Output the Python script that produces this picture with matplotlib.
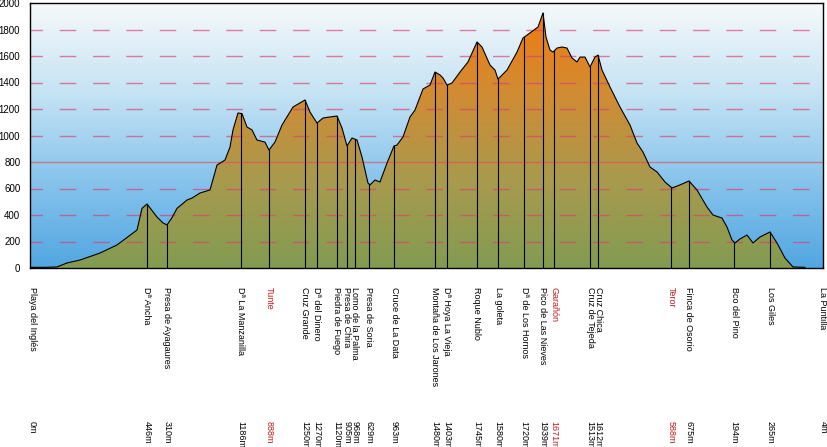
import matplotlib
matplotlib.use('Agg')
import matplotlib.pyplot as plt
import numpy as np
from matplotlib.colors import LinearSegmentedColormap
from matplotlib.transforms import blended_transform_factory

plt.rcParams['font.family'] = ['Liberation Sans', 'DejaVu Sans']

# profile: distance (km) and elevation (m)
dist = [0.0, 1.5, 2.7, 3.7, 5.0, 7.0, 8.7, 10.3, 10.7, 11.2, 11.7, 12.7, 13.3, 13.7,
        14.2, 14.7, 15.7, 16.2, 17.0, 18.0, 18.7, 19.5, 20.0, 20.3, 20.8, 21.2, 21.7,
        22.2, 22.7, 23.5, 23.9, 24.5, 25.2, 26.3, 27.5, 28.0, 28.7, 29.3, 30.0, 30.7,
        31.2, 31.7, 32.2, 32.7, 33.2, 33.8, 34.0, 34.5, 35.0, 35.7, 36.4, 36.7, 37.3,
        38.0, 38.5, 39.3, 40.0, 40.5, 41.0, 41.3, 41.7, 42.2, 43.0, 43.8, 44.7, 45.2,
        46.0, 46.5, 46.8, 47.7, 48.7, 49.3, 50.0, 50.8, 51.3, 51.6, 52.0, 52.3, 52.7,
        53.2, 53.7, 54.2, 54.7, 55.0, 55.5, 56.0, 56.5, 56.8, 57.2, 58.0, 59.0, 60.0,
        60.7, 61.3, 62.0, 62.7, 63.5, 64.2, 65.0, 65.9, 66.7, 67.7, 68.3, 69.2, 69.7,
        70.2, 70.5, 71.0, 71.7, 72.3, 73.0, 74.0, 74.7, 75.5, 76.3, 77.5]
elev = [5, 5, 8, 38, 60, 113, 174, 264, 287, 450, 483, 385, 340, 325,
        380, 450, 513, 528, 566, 589, 777, 815, 913, 1042, 1170, 1165, 1064,
        1042, 966, 950, 890, 951, 1079, 1215, 1268, 1177, 1094, 1132, 1140, 1147,
        1057, 921, 981, 966, 838, 641, 627, 664, 649, 792, 921, 928, 989,
        1140, 1192, 1351, 1381, 1479, 1457, 1434, 1381, 1396, 1479, 1555, 1706, 1668,
        1532, 1494, 1426, 1494, 1630, 1736, 1774, 1819, 1925, 1743, 1645, 1630, 1660,
        1668, 1660, 1585, 1555, 1592, 1592, 1517, 1592, 1607, 1494, 1366, 1215, 1079,
        943, 875, 762, 725, 649, 604, 627, 657, 589, 460, 400, 377, 309,
        211, 189, 219, 249, 189, 234, 272, 189, 75, 8, 5]

# waypoints
names = ['Playa del Inglés', 'Dª Ancha', 'Presa de Ayagaures', 'Dª La Manzanilla', 'Tunte',
         'Cruz Grande', 'Dª del Dinero', 'Piedra de Fuego', 'Presa de Chira', 'Lomo de la Palma',
         'Presa de Soria', 'Cruce de La Data', 'Montaña de Los Jarones', 'Dª Hoya La Vieja',
         'Roque Nublo', 'La goleta', 'Dª de Los Hornos', 'Pico de Las Nieves', 'Garañón',
         'Cruz de Tejeda', 'Cruz Chica', 'Teror', 'Finca de Osorio', 'Bco del Pino',
         'Los Giles', 'La Puntilla']
wp_dist = [0.2, 11.7, 13.7, 21.1, 23.9, 27.5, 28.7, 30.7, 31.7, 32.5, 33.9, 36.4, 40.5,
           41.7, 44.7, 46.8, 49.4, 51.3, 52.4, 56.0, 56.8, 64.1, 65.9, 70.4, 74.0, 79.3]
wp_elev = ['0m', '446m', '310m', '1186m', '888m', '1250m', '1270m', '1120m', '905m', '968m',
           '629m', '963m', '1480m', '1403m', '1745m', '1580m', '1720m', '1939m', '1671m',
           '1513m', '1612m', '588m', '675m', '194m', '265m', '4m']
red_wp = ['Tunte', 'Garañón', 'Teror']

W, H = 827, 447
fig = plt.figure(figsize=(W / 100, H / 100), dpi=100)
ax = fig.add_axes([30 / W, 1 - 268 / H, 793 / W, 265 / H])
xmax = 79.3
ax.set_xlim(0, xmax)
ax.set_ylim(0, 2000)

# sky gradient
sky = LinearSegmentedColormap.from_list('sky', ['#52a6e2', '#88c4ec', '#c6e3f4', '#f6f9fa'])
ax.imshow(np.linspace(0, 1, 256).reshape(-1, 1), cmap=sky, origin='lower', aspect='auto',
          extent=[0, xmax, 0, 2000], zorder=0)

# ground gradient clipped to profile
ground = LinearSegmentedColormap.from_list('ground', ['#829c52', '#a89a4e', '#d08c34', '#f07c10'])
poly = ax.fill_between(dist, elev, 0, color='none', zorder=1)
img = ax.imshow(np.linspace(0, 1, 256).reshape(-1, 1), cmap=ground, origin='lower', aspect='auto',
                extent=[0, xmax, 0, 1950], zorder=1)
img.set_clip_path(poly.get_paths()[0], transform=ax.transData)
ax.set_ylim(0, 2000)

# grid lines
for g in [200, 400, 600, 1000, 1200, 1400, 1600, 1800]:
    ax.axhline(g, color='#d8406e', lw=1, ls=(3, (12, 12)), alpha=0.65, zorder=2)
ax.axhline(800, color='#e0505a', lw=1, alpha=0.65, zorder=2)

# profile line and waypoint verticals
ax.plot(dist, elev, color='black', lw=0.8, zorder=3)
for d in wp_dist:
    top = np.interp(d, dist, elev, right=0)
    ax.plot([d, d], [0, top], color='black', lw=0.8, zorder=3)

ax.set_xticks([])
ax.set_yticks(np.arange(0, 2001, 200))
ax.tick_params(axis='y', length=0, pad=7, labelsize=7)
for s in ax.spines.values():
    s.set_linewidth(1)
    s.set_color('black')

# labels under the chart
trans = blended_transform_factory(ax.transData, fig.transFigure)
for n, d, e in zip(names, wp_dist, wp_elev):
    c = '#c01818' if n in red_wp else 'black'
    ax.text(d, 1 - 287 / H, n, transform=trans, rotation=270, ha='center', va='top',
            fontsize=6.5, color=c, clip_on=False)
    ax.text(d, 1 - 421 / H, e, transform=trans, rotation=270, ha='center', va='top',
            fontsize=6.5, color=c, clip_on=False)

fig.savefig('out.png', dpi=100)
